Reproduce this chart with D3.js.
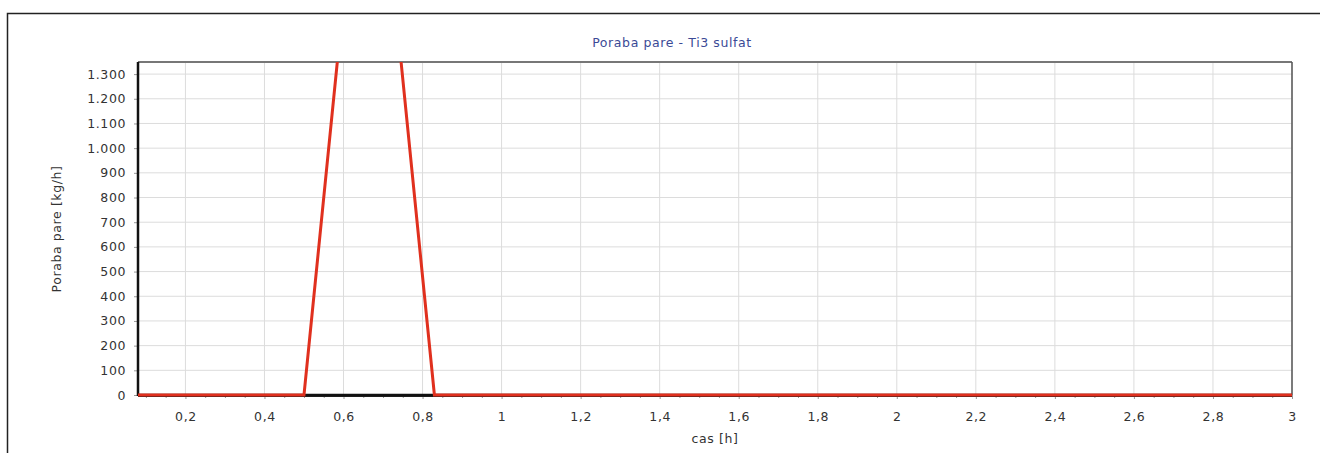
<!DOCTYPE html>
<html>
<head>
<meta charset="utf-8">
<script src="https://cdn.jsdelivr.net/npm/d3@7"></script>
<style>
  body { margin: 0; background: #fff; }
  svg { display: block; }
  text { font-family: "DejaVu Sans", Verdana, sans-serif; font-size: 12.5px; letter-spacing: 0.6px; }
</style>
</head>
<body>
<svg width="1320" height="453"></svg>
<script>
// data
var titleText = "Poraba pare - Ti3 sulfat";
var xLabel = "cas [h]";
var yLabel = "Poraba pare [kg/h]";
var xDomain = [0.08, 3];
var yDomain = [0, 1349];
var xTicks = [0.2, 0.4, 0.6, 0.8, 1, 1.2, 1.4, 1.6, 1.8, 2, 2.2, 2.4, 2.6, 2.8, 3];
var yTicks = [0, 100, 200, 300, 400, 500, 600, 700, 800, 900, 1000, 1100, 1200, 1300];
var steamX = [0.08, 0.5, 0.6, 0.73, 0.83, 3];
var steamY = [0, 0, 1600, 1600, 0, 0];
var baseX = [0.08, 3];
var baseY = [0, 0];

var svg = d3.select("svg");
var pLeft = 138, pRight = 1292, pTop = 62, pBottom = 395;

var xScale = d3.scaleLinear().domain(xDomain).range([pLeft, pRight]);
var yScale = d3.scaleLinear().domain(yDomain).range([pBottom, pTop]);

var fmtX = function (d) { return String(d).replace(".", ","); };
var fmtY = function (d) { return d3.format(",")(d).replace(/,/g, "."); };

// outer frame
svg.append("rect")
  .attr("x", 7.5).attr("y", 13.5)
  .attr("width", 1340).attr("height", 500)
  .style("fill", "none")
  .style("stroke", "#222")
  .style("stroke-width", 1.5);

// grid
svg.append("g")
  .selectAll("line")
  .data(xTicks)
  .enter()
  .append("line")
  .attr("x1", function (d) { return xScale(d); })
  .attr("x2", function (d) { return xScale(d); })
  .attr("y1", pTop).attr("y2", pBottom)
  .style("stroke", "#dcdcdc");

svg.append("g")
  .selectAll("line")
  .data(yTicks)
  .enter()
  .append("line")
  .attr("x1", pLeft).attr("x2", pRight)
  .attr("y1", function (d) { return yScale(d); })
  .attr("y2", function (d) { return yScale(d); })
  .style("stroke", "#dcdcdc");

// axes
var xAxis = svg.append("g")
  .attr("transform", "translate(0," + pBottom + ")")
  .call(d3.axisBottom(xScale).tickValues(xTicks).tickFormat(fmtX).tickSize(4).tickPadding(13));

var minor = d3.range(0.1, 3.0001, 0.05).filter(function (d) {
  return Math.abs(d * 5 - Math.round(d * 5)) > 0.01;
});
svg.append("g")
  .attr("transform", "translate(0," + pBottom + ")")
  .call(d3.axisBottom(xScale).tickValues(minor).tickFormat("").tickSize(3))
  .call(function (g) { g.select(".domain").remove(); })
  .selectAll("line").style("stroke", "#999");

var yAxis = svg.append("g")
  .attr("transform", "translate(" + pLeft + ",0)")
  .call(d3.axisLeft(yScale).tickValues(yTicks).tickFormat(fmtY).tickSize(4).tickPadding(8));

[xAxis, yAxis].forEach(function (g) {
  g.attr("font-family", null).attr("font-size", null);
  g.select(".domain").remove();
  g.selectAll("line").style("stroke", "#999");
  g.selectAll("text").style("fill", "#333");
});

// plot frame
svg.append("line").attr("x1", pLeft).attr("x2", pRight).attr("y1", pTop).attr("y2", pTop)
  .style("stroke", "#777").style("stroke-width", 2);
svg.append("line").attr("x1", pRight).attr("x2", pRight).attr("y1", pTop).attr("y2", pBottom)
  .style("stroke", "#555").style("stroke-width", 1.5);
svg.append("line").attr("x1", pLeft).attr("x2", pLeft).attr("y1", pTop).attr("y2", pBottom + 1)
  .style("stroke", "#111").style("stroke-width", 2.5);
svg.append("line").attr("x1", pLeft).attr("x2", pRight).attr("y1", pBottom + 1).attr("y2", pBottom + 1)
  .style("stroke", "#222").style("stroke-width", 2);

// series
svg.append("clipPath").attr("id", "clip")
  .append("rect").attr("x", pLeft).attr("y", pTop)
  .attr("width", pRight - pLeft).attr("height", pBottom - pTop + 2);

var line = d3.line()
  .x(function (d) { return xScale(d[0]); })
  .y(function (d) { return yScale(d[1]); });

svg.append("path")
  .datum(d3.zip(baseX, baseY))
  .attr("clip-path", "url(#clip)")
  .attr("d", line)
  .style("fill", "none")
  .style("stroke", "#111")
  .style("stroke-width", 2.5);

svg.append("path")
  .datum(d3.zip(steamX, steamY))
  .attr("clip-path", "url(#clip)")
  .attr("d", line)
  .style("fill", "none")
  .style("stroke", "#e0301e")
  .style("stroke-width", 3);

// Title
svg.append("text")
  .attr("x", 672)
  .attr("y", 47)
  .attr("text-anchor", "middle")
  .style("fill", "#3b4a96")
  .text(titleText);

// X label
svg.append("text")
  .attr("x", (pLeft + pRight) / 2)
  .attr("y", 443)
  .attr("text-anchor", "middle")
  .style("fill", "#333")
  .text(xLabel);

// Y label
svg.append("text")
  .attr("text-anchor", "middle")
  .attr("transform", "translate(61,229) rotate(-90)")
  .style("fill", "#333")
  .text(yLabel);
</script>
</body>
</html>
